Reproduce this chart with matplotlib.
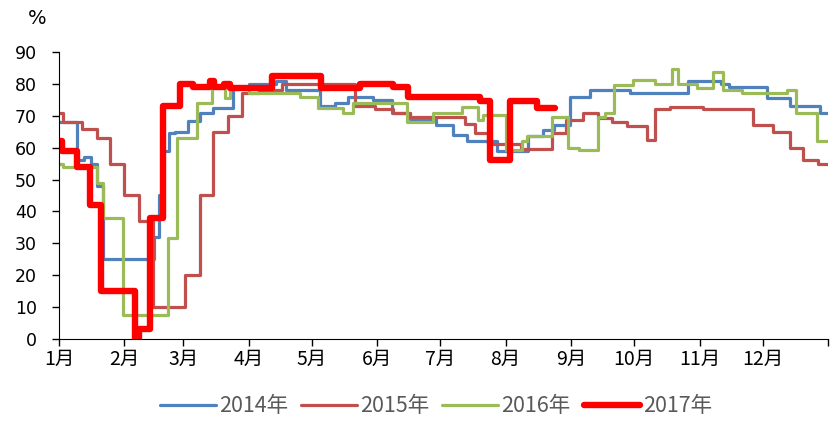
import matplotlib
matplotlib.use("Agg")
import matplotlib.pyplot as plt

plt.rcParams["font.family"] = ["Noto Sans CJK SC", "DejaVu Sans"]

# day of year where each level starts, and the level (%)
days_2014 = [0, 8.5, 12, 15, 18, 21, 45, 47.5, 49.5, 52, 55, 61, 67, 73, 82.5,
             90, 103, 107.5, 124, 131, 137, 149, 158, 166.5, 179, 187, 193.5,
             208, 222.5, 229.5, 235, 242.5, 252, 271, 298.5, 314, 318, 336,
             347, 361, 365]
vals_2014 = [68, 56, 57, 55, 48, 25, 32, 45, 59, 64.5, 65, 68.5, 71, 72.3, 79,
             80, 81, 78, 73, 74, 76, 75, 71, 69, 67, 64, 62,
             59, 63.5, 65.5, 67, 76, 78, 77, 81, 80, 79, 75.5,
             73, 71, 71]

days_2015 = [0, 2, 11, 18, 24, 31, 38, 44.5, 60, 67, 73, 80, 87, 95, 106,
             140.5, 150, 158.5, 166.5, 192.5, 197.5, 203.5, 219.5, 234, 240.5,
             248.5, 256, 262.5, 269.5, 279, 283, 290, 305.5, 329.5, 339, 347,
             353, 360, 365]
vals_2015 = [71, 68, 66, 63, 55, 45, 37, 10, 20, 45, 65, 70, 77, 78, 80,
             73, 72, 71, 69.5, 67.5, 64.5, 61.3, 59.5, 64.5, 68.7,
             71, 69.2, 68.2, 66.8, 62.4, 72, 72.8, 72, 67, 65, 59.8,
             56, 55, 55]

days_2016 = [0, 2, 18, 21, 30.5, 51.7, 56, 65.5, 72.6, 78.8, 81.2, 90, 114.4,
             123, 135, 139.5, 165.2, 177.5, 191.3, 198.9, 201.2, 212.3, 219.7,
             222, 234, 241.6, 247, 255.8, 259, 263.4, 272.4, 283, 291, 293.6,
             302.8, 310.4, 315, 324, 345.5, 349.8, 359.8, 365]
vals_2016 = [55, 54, 49, 38, 7.5, 31.6, 63, 74, 79, 75.5, 79, 77, 76,
             72.3, 71, 74, 68, 71, 72.8, 68.7, 70.2, 59.2, 62,
             63.5, 69.7, 59.8, 59.2, 69.7, 71, 79.6, 81.2, 80, 84.8, 80,
             78.6, 83.8, 78, 77, 78, 71, 62, 62]

days_2017 = [0, 1.4, 8.5, 14.7, 20, 36, 38, 43.2, 49.4, 57.4, 63.6, 71.5, 73.5,
             78.5, 81, 101, 124.3, 143, 158.5, 165.6, 199.8, 204.6, 214, 227,
             235.4]
vals_2017 = [62, 59, 54, 42, 15, 0, 3, 38, 73, 80, 79, 81, 79,
             80, 78.6, 82.5, 78.6, 80, 79, 76, 74.5, 56, 74.5, 72.3,
             72.3]

month_starts = [0, 31, 59, 90, 120, 151, 181, 212, 243, 273, 304, 334, 365]
month_labels = ["1月", "2月", "3月", "4月", "5月", "6月", "7月", "8月",
                "9月", "10月", "11月", "12月", ""]

fig = plt.figure(figsize=(8.36, 4.22), dpi=100)
ax = fig.add_axes([0.0706, 0.1967, 0.9199, 0.6801])

series = [
    (days_2014, vals_2014, "#4F81BD", 2.3, "2014年"),
    (days_2015, vals_2015, "#C0504D", 2.3, "2015年"),
    (days_2016, vals_2016, "#9BBB59", 2.3, "2016年"),
    (days_2017, vals_2017, "#FF0000", 4.6, "2017年"),
]
for d, v, c, lw, lab in series:
    ax.plot(d, v, drawstyle="steps-post", color=c, linewidth=lw, label=lab,
            solid_joinstyle="round", solid_capstyle="round")

ax.set_xlim(0, 365)
ax.set_ylim(0, 90)
ax.set_yticks(range(0, 91, 10))
ax.set_xticks(month_starts)
ax.set_xticklabels(month_labels, fontsize=14)
for t in ax.get_yticklabels():
    t.set_family("DejaVu Sans")
    t.set_fontsize(12.5)

ax.spines["top"].set_visible(False)
ax.spines["right"].set_visible(False)
ax.tick_params(direction="out", length=5, width=1, color="black")
ax.tick_params(axis="x", pad=2)
ax.tick_params(axis="y", pad=11)

fig.text(0.0443, 0.957, "%", fontsize=14, family="DejaVu Sans",
         ha="center", va="center")

leg = ax.legend(loc="center", bbox_to_anchor=(0.49, -0.235), ncol=4,
                frameon=False, fontsize=15.5, handlelength=2.6,
                handletextpad=0.15, columnspacing=0.6,
                borderpad=0.1)
for t in leg.get_texts():
    t.set_color("#595959")

fig.savefig("out.png", dpi=100)
plt.close(fig)
